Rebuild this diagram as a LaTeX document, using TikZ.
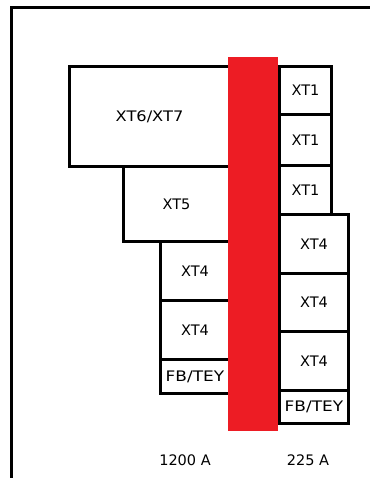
\documentclass[tikz,border=0pt]{standalone}
\usepackage{fontspec}
\setmainfont{DejaVu Sans}
\newfontfamily\widefont[FakeStretch=1.12]{DejaVu Sans}
\newfontfamily\widerfont[FakeStretch=1.17]{DejaVu Sans}
\definecolor{abbred}{HTML}{ED1C24}
\begin{document}
\begin{tikzpicture}[x=1pt,y=-1pt,
  box/.style={draw=black,line width=3pt,fill=white,inner sep=0pt,anchor=north west,
    font=\fontsize{14.5}{16}\selectfont},
  lbl/.style={font=\fontsize{14.5}{16}\selectfont,inner sep=0pt}]
\useasboundingbox (0,0) rectangle (369,478);
% frame
\coordinate (fb) at (11,480);
\coordinate (fc) at (11,8);
\coordinate (fr) at (371,8);
\draw[line width=3pt] (fb) -- (fc) -- (fr);
% left column
\node[box,minimum width=160pt,minimum height=100pt] (l1) at (68,65) {\widefont\fontsize{14.5}{16}\selectfont XT6/XT7};
\node[box,minimum width=106pt,minimum height=75pt] (l2) at (122,165) {XT5};
\node[box,minimum width=69pt,minimum height=59pt] (l3) at (159,240) {XT4};
\node[box,minimum width=69pt,minimum height=59pt] (l4) at (159,299) {XT4};
\node[box,minimum width=69pt,minimum height=34pt] (l5) at (159,358) {\widerfont\fontsize{14.5}{16}\selectfont FB/TEY};
% right column
\node[box,minimum width=52pt,minimum height=48pt] (r1) at (278,65) {XT1};
\node[box,minimum width=52pt,minimum height=51pt] (r2) at (278,113) {XT1};
\node[box,minimum width=52pt,minimum height=49pt] (r3) at (278,164) {XT1};
\node[box,minimum width=69pt,minimum height=59pt] (r4) at (278,213) {XT4};
\node[box,minimum width=69pt,minimum height=58pt] (r5) at (278,272) {XT4};
\node[box,minimum width=69pt,minimum height=59pt] (r6) at (278,330) {XT4};
\node[box,minimum width=69pt,minimum height=33pt] (r7) at (278,389) {\widerfont\fontsize{14.5}{16}\selectfont FB/TEY};
% red bar
\node[fill=abbred,inner sep=0pt,minimum width=50pt,minimum height=374pt,anchor=north west] (bar) at (228,57) {};
% labels
\node[lbl] (a1) at (185,460) {1200 A};
\node[lbl] (a2) at (308,460) {225 A};
\end{tikzpicture}
\end{document}
